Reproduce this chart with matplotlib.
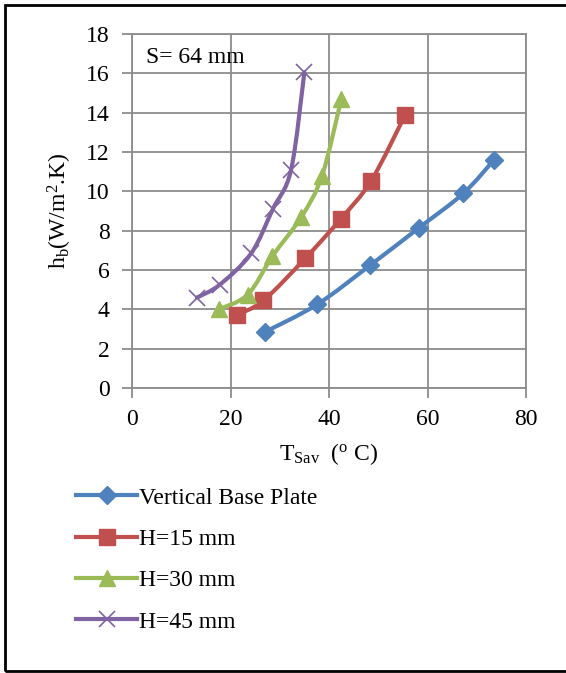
import numpy as np
import matplotlib.pyplot as plt
from matplotlib.path import Path
from matplotlib.patches import PathPatch, Rectangle
from matplotlib.lines import Line2D

plt.rcParams['font.family'] = ['Liberation Serif', 'DejaVu Serif']
plt.rcParams['mathtext.fontset'] = 'custom'
plt.rcParams['mathtext.rm'] = 'Liberation Serif'
plt.rcParams['mathtext.it'] = 'Liberation Serif:italic'

# T_Sav (deg C) and h_b (W/m2.K) for each configuration
t_base = [27.0, 37.6, 48.4, 58.3, 67.3, 73.5]
h_base = [2.85, 4.25, 6.25, 8.15, 9.9, 11.6]

t_h15 = [21.3, 26.7, 35.2, 42.4, 48.6, 55.5]
h_h15 = [3.72, 4.45, 6.6, 8.6, 10.55, 13.9]

t_h30 = [17.6, 23.5, 28.5, 34.4, 38.6, 42.5]
h_h30 = [4.0, 4.75, 6.7, 8.7, 10.8, 14.7]

t_h45 = [13.2, 17.8, 24.2, 28.6, 32.3, 35.0]
h_h45 = [4.6, 5.25, 6.85, 9.1, 11.1, 16.05]

labels = ['Vertical Base Plate', 'H=15 mm', 'H=30 mm', 'H=45 mm']
colors = ['#4F81BD', '#C0504D', '#9BBB59', '#8064A2']
markers = ['D', 's', '^', 'x']
msizes = [9, 11.5, 11, 11]

FS = 17


def smooth_path(x, y):
    # bezier curve through the points, like a spreadsheet "smoothed line"
    pts = np.column_stack([x, y])
    verts = [pts[0]]
    codes = [Path.MOVETO]
    n = len(pts)
    for i in range(n - 1):
        p0 = pts[i - 1] if i > 0 else pts[i]
        p1 = pts[i]
        p2 = pts[i + 1]
        p3 = pts[i + 2] if i + 2 < n else pts[i + 1]
        c1 = p1 + (p2 - p0) / 6.0
        c2 = p2 - (p3 - p1) / 6.0
        verts += [c1, c2, p2]
        codes += [Path.CURVE4] * 3
    return Path(verts, codes)


fig = plt.figure(figsize=(5.66, 6.73), dpi=100)
ax = fig.add_axes([132 / 566, 1 - 388 / 673, 394 / 566, 354 / 673])

series = [(t_base, h_base), (t_h15, h_h15), (t_h30, h_h30), (t_h45, h_h45)]
handles = []
for (x, y), c, m, ms, lab in zip(series, colors, markers, msizes, labels):
    ax.add_patch(PathPatch(smooth_path(x, y), facecolor='none', edgecolor=c,
                           lw=3, capstyle='round', zorder=3))
    if m == 'x':
        ax.plot(x, y, linestyle='none', marker=m, ms=ms, mew=1.2, color=c, zorder=4)
    else:
        ax.plot(x, y, linestyle='none', marker=m, ms=ms, color=c, mec=c, zorder=4)
    handles.append(Line2D([], [], color=c, lw=3, marker=m, ms=ms,
                          mew=1.2 if m == 'x' else 1, label=lab))

ax.set_xlim(0, 80)
ax.set_ylim(0, 18)
ax.set_xticks(np.arange(0, 81, 20))
ax.set_yticks(np.arange(0, 19, 2))
ax.grid(True, color='#8c8c8c', lw=1.3)
ax.set_axisbelow(True)
for s in ax.spines.values():
    s.set_color('#8c8c8c')
    s.set_linewidth(1.3)
ax.tick_params(direction='out', length=7, width=1.3, color='#8c8c8c',
               labelsize=FS)
ax.tick_params(axis='y', pad=9)
ax.tick_params(axis='x', pad=8)

ax.set_ylabel(r'$\mathregular{h_b}$(W/m$\mathregular{^2}$.K)', fontsize=FS, labelpad=9)
ax.set_xlabel(r'$\mathregular{T_{Sav}}$  ($\mathregular{^o}$ C)', fontsize=FS, labelpad=8)

ax.text(2.8, 16.8, 'S= 64 mm', fontsize=FS, va='center', ha='left')

fig.legend(handles=handles, loc='upper left', bbox_to_anchor=(76 / 566, 1 - 487 / 673),
           frameon=False, fontsize=FS, handlelength=2.6, handletextpad=0.05,
           labelspacing=0.84, borderpad=0, borderaxespad=0)

# outer frame
fig.patches.append(Rectangle((5 / 566, 2 / 673), 1.2, 666 / 673, transform=fig.transFigure,
                             fill=False, edgecolor='black', lw=2))

fig.savefig('out.png', dpi=100)
